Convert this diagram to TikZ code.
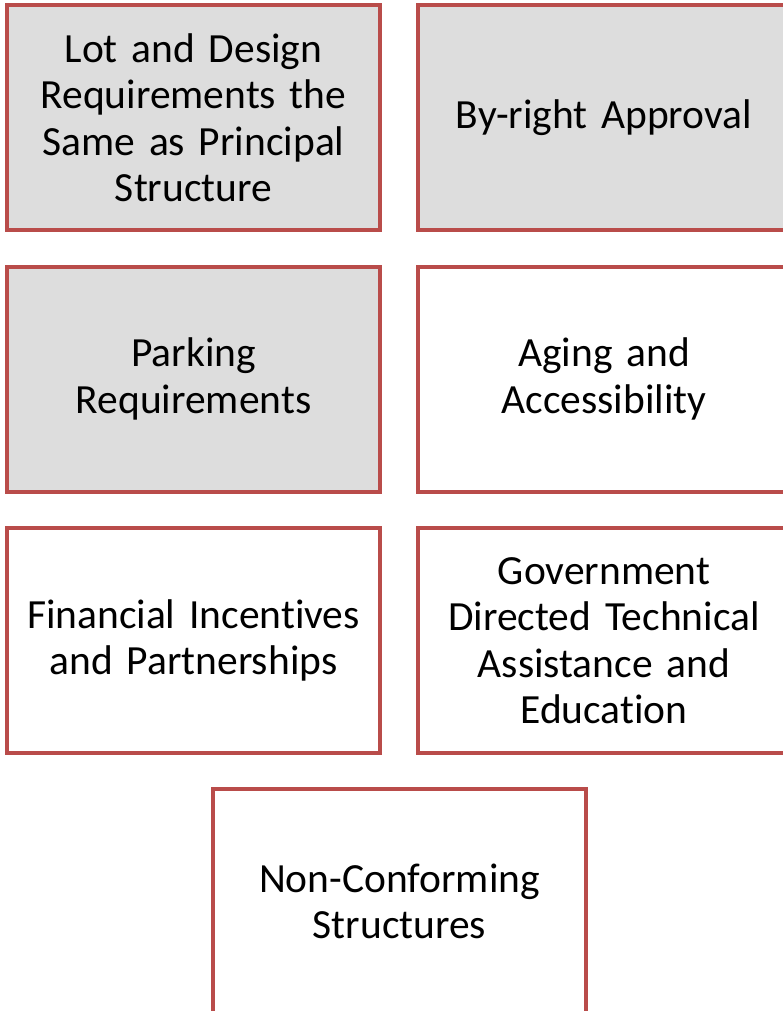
\documentclass[tikz,border=0pt]{standalone}
\usepackage{fontspec}
\setmainfont{Carlito}[Ligatures=NoCommon]
\definecolor{boxred}{RGB}{185,76,74}
\definecolor{boxgray}{RGB}{221,221,221}
\begin{document}
\begin{tikzpicture}[x=1pt,y=-1pt,
  card/.style={draw=boxred, line width=4pt, minimum width=373pt, minimum height=225pt,
    text width=365pt, align=center, inner sep=0pt, font=\fontsize{41.5}{46.5}\selectfont},
  shaded/.style={card, fill=boxgray},
  plain/.style={card, fill=white}]
\useasboundingbox (0,0) rectangle (782,1011);
\node[shaded] (lot) at (193.5,117.5) {Lot and Design\\Requirements the\\Same as Principal\\Structure};
\node[shaded] (byright) at (604,117.5) {By-right Approval};
\node[shaded] (parking) at (193.5,379) {Parking\\Requirements};
\node[plain] (aging) at (604,379) {Aging and\\Accessibility};
\node[plain] (fin) at (193.5,640.5) {Financial Incentives\\and Partnerships};
\node[plain] (gov) at (604,640.5) {Government\\Directed Technical\\Assistance and\\Education};
\node[plain] (noncon) at (399.5,901.5) {Non-Conforming\\Structures};
\end{tikzpicture}
\end{document}
